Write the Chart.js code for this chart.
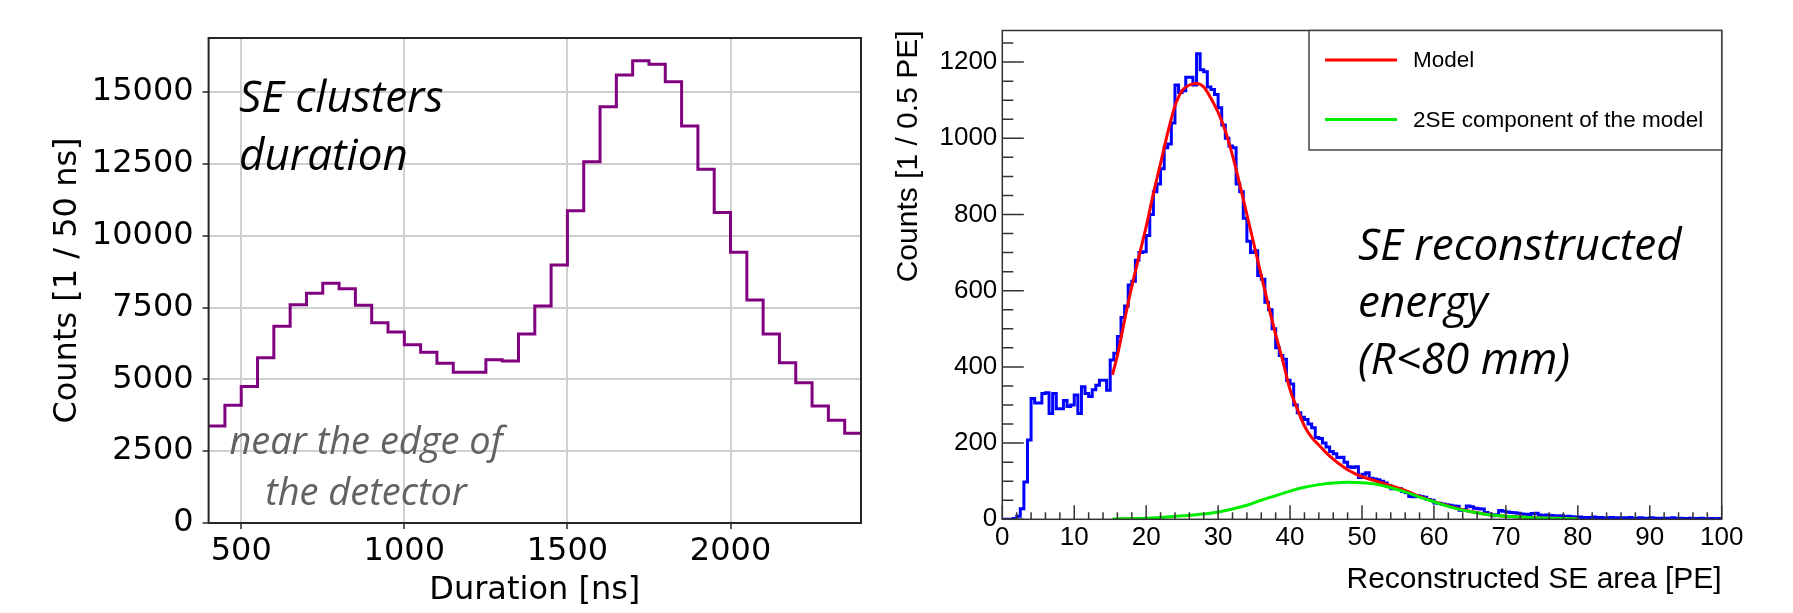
<!DOCTYPE html>
<html>
<head>
<meta charset="utf-8">
<script src="https://cdn.jsdelivr.net/npm/chart.js@4.4.1/dist/chart.umd.min.js"></script>
<style>
  html, body { margin: 0; padding: 0; background: #fff; }
  #wrap { position: relative; width: 1793px; height: 613px; overflow: hidden; }
  canvas { position: absolute; top: 0; }
  #left { left: 0; width: 880px; height: 613px; }
  #right { left: 880px; width: 913px; height: 613px; }
</style>
</head>
<body>
<div id="wrap">
  <canvas id="left" width="880" height="613"></canvas>
  <canvas id="right" width="913" height="613"></canvas>
</div>
<script>
// ---- left panel: SE cluster duration (50 ns bins) ----
const durationBinStart = [400, 450, 500, 550, 600, 650, 700, 750, 800, 850,
  900, 950, 1000, 1050, 1100, 1150, 1200, 1250, 1300, 1350,
  1400, 1450, 1500, 1550, 1600, 1650, 1700, 1750, 1800, 1850,
  1900, 1950, 2000, 2050, 2100, 2150, 2200, 2250, 2300, 2350];
const durationCounts = [3380, 4100, 4750, 5750, 6850, 7600, 8000, 8340, 8150, 7580,
  6970, 6650, 6200, 5940, 5560, 5250, 5250, 5680, 5640, 6580,
  7550, 8980, 10870, 12570, 14490, 15590, 16090, 15970, 15360, 13820,
  12310, 10810, 9420, 7760, 6580, 5580, 4880, 4070, 3580, 3120];
const durationEnd = 2400;
const durationXTicks = [500, 1000, 1500, 2000];
const durationYTicks = [0, 2500, 5000, 7500, 10000, 12500, 15000];

// ---- right panel: reconstructed SE area (0.5 PE bins, 0..100) ----
const areaBinWidth = 0.5;
const areaCounts = [
  0, 0, 0, 2, 8, 28, 98, 208, 317, 305,
  305, 330, 332, 278, 330, 290, 290, 312, 296, 300,
  326, 278, 348, 330, 322, 340, 352, 365, 365, 339,
  418, 436, 480, 530, 560, 615, 625, 680, 700, 702,
  745, 800, 860, 880, 920, 975, 985, 1040, 1140, 1120,
  1125, 1160, 1160, 1140, 1222, 1180, 1175, 1135, 1128, 1115,
  1080, 1035, 1000, 980, 975, 880, 860, 790, 730, 700,
  705, 640, 630, 570, 550, 500, 450, 430, 420, 365,
  355, 300, 280, 268, 262, 250, 240, 215, 212, 200,
  190, 178, 172, 162, 163, 150, 138, 136, 138, 110,
  118, 122, 108, 106, 104, 100, 95, 88, 80, 81,
  80, 73, 70, 60, 59, 62, 60, 58, 52, 50,
  43, 42, 40, 38, 37, 35, 34, 24, 25, 35,
  33, 29, 28, 27, 18, 14, 9, 12, 23, 21,
  19, 18, 17, 16, 14, 13, 12, 15, 16, 11,
  10, 11, 10, 9, 8, 9, 7, 8, 7, 6,
  6, 5, 5, 4, 6, 4, 5, 3, 4, 5,
  3, 4, 4, 3, 5, 3, 3, 4, 2, 3,
  4, 3, 2, 3, 3, 2, 4, 2, 3, 2,
  2, 3, 2, 2, 3, 1, 2, 2, 1, 2];
const modelX = [15.3, 16, 17, 18, 19, 20, 21, 22, 23, 24, 25, 26, 27, 28, 29, 30, 31, 32, 33, 34,
  35, 36, 37, 38, 39, 40, 41, 42, 43, 44, 45, 46, 47, 48, 49, 50,
  52, 54, 56, 58, 60, 62, 64, 66, 68, 70, 72, 74, 76, 78, 80];
const modelY = [379, 430, 523, 611, 690, 768, 855, 934, 1015, 1085, 1125, 1140, 1144, 1135, 1105, 1068, 1020, 955, 880, 800,
  720, 640, 560, 485, 415, 340, 290, 245, 215, 195, 175, 158, 143, 130, 120, 112,
  100, 88, 76, 60, 47, 35, 25, 17, 11, 8, 6, 4, 3, 2, 1];
const twoSEX = [15.3, 18, 20, 22, 25, 28, 30, 32, 34, 36, 38, 40, 42, 44, 46, 48,
  50, 52, 54, 56, 58, 60, 62, 64, 66, 68, 70, 72, 74, 76, 78, 80];
const twoSEY = [1, 2, 3, 5, 9, 14, 19, 27, 37, 50, 62, 74, 84, 91, 95, 97,
  96, 92, 83, 72, 58, 46, 34, 24, 17, 11, 8, 6, 4, 3, 2, 1];
const areaXTicks = [0, 10, 20, 30, 40, 50, 60, 70, 80, 90, 100];
const areaYTicks = [0, 200, 400, 600, 800, 1000, 1200];

// histogram outline points: each bin's value held from its start to the next edge
function stepPoints(starts, counts, end) {
  const pts = starts.map((x, i) => ({ x: x, y: counts[i] }));
  pts.push({ x: end, y: counts[counts.length - 1] });
  return pts;
}
const fixTicks = (list) => (scale) => { scale.ticks = list.map(v => ({ value: v })); };
const plain = (v) => String(v);

// ---------- left chart ----------
const leftFrame = {
  id: 'leftFrame',
  afterDraw(chart) {
    const { ctx, chartArea: a } = chart;
    ctx.save();
    ctx.strokeStyle = '#262626';
    ctx.lineWidth = 2;
    ctx.strokeRect(a.left, a.top, a.right - a.left, a.bottom - a.top);

    ctx.fillStyle = '#000';
    ctx.font = 'italic 44px "Open Sans"';
    ctx.textAlign = 'left';
    ctx.textBaseline = 'alphabetic';
    ctx.fillText('SE clusters', 239, 112);
    ctx.fillText('duration', 239, 170);

    ctx.fillStyle = '#626262';
    ctx.font = 'italic 38px "Open Sans"';
    ctx.textAlign = 'center';
    ctx.fillText('near the edge of', 366, 454);
    ctx.fillText('the detector', 366, 505);
    ctx.restore();
  }
};

new Chart(document.getElementById('left'), {
  type: 'line',
  data: {
    datasets: [{
      data: stepPoints(durationBinStart, durationCounts, durationEnd),
      borderColor: '#800080',
      borderWidth: 3,
      stepped: 'before',
      pointRadius: 0,
      fill: false
    }]
  },
  options: {
    responsive: false,
    animation: false,
    devicePixelRatio: 1,
    layout: { padding: { top: 38, right: 19, left: 0, bottom: 0 } },
    plugins: { legend: { display: false }, tooltip: { enabled: false } },
    scales: {
      x: {
        type: 'linear', min: 400, max: 2400,
        afterBuildTicks: fixTicks(durationXTicks),
        afterFit: (s) => { s.height = 90; },
        grid: { color: '#cfcfcf', lineWidth: 2, tickLength: 6, tickColor: '#262626', tickWidth: 1.5 },
        border: { display: false },
        ticks: { color: '#000', padding: 3, callback: plain, font: { family: 'DejaVu Sans', size: 32 }, maxRotation: 0 },
        title: { display: true, text: 'Duration [ns]', color: '#000',
          font: { family: 'DejaVu Sans', size: 32 }, padding: { top: 0, bottom: 3 } }
      },
      y: {
        type: 'linear', min: 0, max: 16880,
        afterBuildTicks: fixTicks(durationYTicks),
        afterFit: (s) => { s.width = 208.6; },
        grid: { color: '#cfcfcf', lineWidth: 2, tickLength: 6, tickColor: '#262626', tickWidth: 1.5 },
        border: { display: false },
        ticks: { color: '#000', padding: 9, callback: plain, font: { family: 'DejaVu Sans', size: 32 } },
        title: { display: true, text: 'Counts [1 / 50 ns]', color: '#000',
          font: { family: 'DejaVu Sans', size: 32 }, padding: { top: 48, bottom: 0 } }
      }
    }
  },
  plugins: [leftFrame]
});

// ---------- right chart ----------
const rightFrame = {
  id: 'rightFrame',
  afterDraw(chart) {
    const { ctx, chartArea: a } = chart;
    const xs = chart.scales.x, ys = chart.scales.y;
    ctx.save();
    ctx.strokeStyle = '#333';
    ctx.lineWidth = 1.5;
    ctx.strokeRect(a.left, a.top, a.right - a.left, a.bottom - a.top);

    // ROOT-style ticks pointing into the frame
    ctx.beginPath();
    for (let v = 0; v <= 100; v += 2) {
      const px = xs.getPixelForValue(v);
      const len = v % 10 === 0 ? 14 : 7;
      ctx.moveTo(px, a.bottom);
      ctx.lineTo(px, a.bottom - len);
    }
    for (let v = 0; v <= 1250; v += 50) {
      const py = ys.getPixelForValue(v);
      const len = v % 200 === 0 ? 21.5 : 11;
      ctx.moveTo(a.left, py);
      ctx.lineTo(a.left + len, py);
    }
    ctx.stroke();

    // legend box
    const lx = 429, ly = a.top, lw = a.right - 429, lh = 150 - a.top;
    ctx.fillStyle = '#fff';
    ctx.fillRect(lx, ly, lw, lh);
    ctx.strokeStyle = '#444';
    ctx.lineWidth = 1.5;
    ctx.strokeRect(lx, ly, lw, lh);
    ctx.lineWidth = 3;
    ctx.strokeStyle = '#ff0000';
    ctx.beginPath(); ctx.moveTo(445, 60); ctx.lineTo(517, 60); ctx.stroke();
    ctx.strokeStyle = '#00ee00';
    ctx.beginPath(); ctx.moveTo(445, 119.5); ctx.lineTo(517, 119.5); ctx.stroke();
    ctx.fillStyle = '#000';
    ctx.font = '22.5px "Liberation Sans"';
    ctx.textAlign = 'left';
    ctx.textBaseline = 'middle';
    ctx.fillText('Model', 533, 61);
    ctx.fillText('2SE component of the model', 533, 120.5);

    // annotation
    ctx.font = 'italic 44px "Open Sans"';
    ctx.textBaseline = 'alphabetic';
    ctx.fillText('SE reconstructed', 478, 260);
    ctx.fillText('energy', 478, 317);
    ctx.fillText('(R<80 mm)', 478, 374);
    ctx.restore();
  }
};

const areaStarts = areaCounts.map((_, i) => i * areaBinWidth);

new Chart(document.getElementById('right'), {
  type: 'line',
  data: {
    datasets: [
      {
        data: stepPoints(areaStarts, areaCounts, areaCounts.length * areaBinWidth),
        borderColor: '#0000ff', borderWidth: 3, stepped: 'before',
        pointRadius: 0, fill: false, order: 3
      },
      {
        data: modelX.map((x, i) => ({ x: x, y: modelY[i] })),
        borderColor: '#ff0000', borderWidth: 3, tension: 0.4,
        cubicInterpolationMode: 'monotone', pointRadius: 0, fill: false, order: 2
      },
      {
        data: twoSEX.map((x, i) => ({ x: x, y: twoSEY[i] })),
        borderColor: '#00ee00', borderWidth: 3, tension: 0.4,
        cubicInterpolationMode: 'monotone', pointRadius: 0, fill: false, order: 1
      }
    ]
  },
  options: {
    responsive: false,
    animation: false,
    devicePixelRatio: 1,
    layout: { padding: { top: 30.5, right: 71.3, left: 0, bottom: 0 } },
    plugins: { legend: { display: false }, tooltip: { enabled: false } },
    scales: {
      x: {
        type: 'linear', min: 0, max: 100,
        afterBuildTicks: fixTicks(areaXTicks),
        afterFit: (s) => { s.height = 93.7; },
        grid: { display: false, drawTicks: false },
        border: { display: false },
        ticks: { color: '#000', padding: 3, callback: plain, font: { family: 'Liberation Sans', size: 26 }, maxRotation: 0 },
        title: { display: true, text: 'Reconstructed SE area [PE]', align: 'end', color: '#000',
          font: { family: 'Liberation Sans', size: 30 }, padding: { top: 0, bottom: 15 } }
      },
      y: {
        type: 'linear', min: 0, max: 1283,
        afterBuildTicks: fixTicks(areaYTicks),
        afterFit: (s) => { s.width = 122.3; },
        grid: { display: false, drawTicks: false },
        border: { display: false },
        ticks: { color: '#000', padding: 5, callback: plain, font: { family: 'Liberation Sans', size: 26 } },
        title: { display: true, text: 'Counts [1 / 0.5 PE]', align: 'end', color: '#000',
          font: { family: 'Liberation Sans', size: 30 }, padding: { top: 11, bottom: 0 } }
      }
    }
  },
  plugins: [rightFrame]
});
</script>
</body>
</html>
